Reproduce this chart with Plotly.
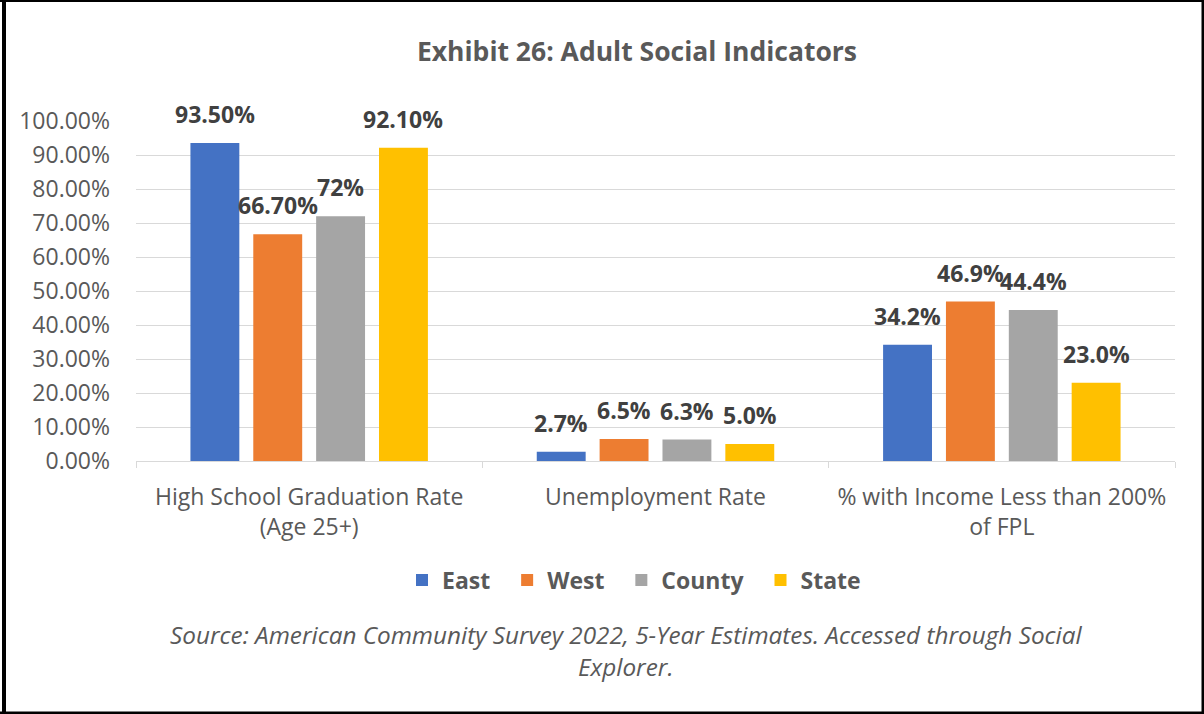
import plotly.graph_objects as go

# ---- data ----
categories = ["High School Graduation Rate<br>(Age 25+)", "Unemployment Rate",
              "% with Income Less than 200%<br>of FPL"]
series_names = ["East", "West", "County", "State"]
east = [93.5, 2.7, 34.2]
west = [66.7, 6.5, 46.9]
county = [72.0, 6.3, 44.4]
state = [92.1, 5.0, 23.0]
east_labels = ["93.50%", "2.7%", "34.2%"]
west_labels = ["66.70%", "6.5%", "46.9%"]
county_labels = ["72%", "6.3%", "44.4%"]
state_labels = ["92.10%", "5.0%", "23.0%"]
y_ticks = [0, 10, 20, 30, 40, 50, 60, 70, 80, 90, 100]
y_tick_labels = ["0.00%", "10.00%", "20.00%", "30.00%", "40.00%", "50.00%",
                 "60.00%", "70.00%", "80.00%", "90.00%", "100.00%"]

colors = ["#4472C4", "#ED7D31", "#A5A5A5", "#FFC000"]
values = [east, west, county, state]
labels = [east_labels, west_labels, county_labels, state_labels]

W, H = 1204, 714
ML, MR, MT, MB = 136, 29, 121, 253
PW = W - ML - MR
PH = H - MT - MB
BARGAP = 0.274
BARGROUPGAP = 0.222
FONT = "Open Sans"
PAD = "\u00a0\u00a0"  # extra spacing between legend entries


def px_x(x):
    return (x - ML) / PW


def px_y(y):
    return (H - MB - y) / PH


fig = go.Figure()
for name, vals, col in zip(series_names, values, colors):
    fig.add_trace(go.Bar(name=name + PAD, x=categories, y=vals,
                         marker=dict(color=col, line=dict(width=0))))

# data labels
slot = PW / len(categories) * (1 - BARGAP) / len(series_names)
annotations = []
for j, (vals, labs) in enumerate(zip(values, labels)):
    for cat, v, lab in zip(categories, vals, labs):
        annotations.append(dict(
            x=cat, y=v, xref="x", yref="y", text=lab, showarrow=False,
            xshift=(j - (len(series_names) - 1) / 2) * slot, yshift=11,
            yanchor="bottom", xanchor="center",
            font=dict(family=FONT, size=23, color="#404040", weight="bold")))

annotations.append(dict(
    x=px_x(626), y=px_y(650), xref="paper", yref="paper", showarrow=False,
    text="<i>Source: American Community Survey 2022, 5-Year Estimates. Accessed through Social<br>Explorer.</i>",
    xanchor="center", yanchor="middle", align="center",
    font=dict(family=FONT, size=24.3, color="#595959")))

shapes = [
    dict(type="line", xref="paper", yref="paper", x0=px_x(4), x1=px_x(4), y0=px_y(0), y1=px_y(H),
         line=dict(color="black", width=4)),
    dict(type="line", xref="paper", yref="paper", x0=px_x(0), x1=px_x(W), y0=px_y(1), y1=px_y(1),
         line=dict(color="black", width=2)),
    dict(type="line", xref="paper", yref="paper", x0=px_x(1203), x1=px_x(1203), y0=px_y(0), y1=px_y(H),
         line=dict(color="black", width=3)),
    dict(type="line", xref="paper", yref="paper", x0=px_x(0), x1=px_x(W), y0=px_y(713), y1=px_y(713),
         line=dict(color="black", width=3)),
]

fig.update_layout(
    width=W, height=H,
    margin=dict(l=ML, r=MR, t=MT, b=MB, pad=0),
    paper_bgcolor="white", plot_bgcolor="white",
    barmode="group", bargap=BARGAP, bargroupgap=BARGROUPGAP,
    font=dict(family=FONT, color="#595959"),
    title=dict(text="<b>Exhibit 26: Adult Social Indicators</b>", xref="container", yref="container",
               x=637 / W, y=1 - 52 / H, xanchor="center", yanchor="middle",
               font=dict(family=FONT, size=26.5, color="#595959")),
    xaxis=dict(showgrid=False, showline=True, linecolor="#d9d9d9", linewidth=1,
               ticks="outside", tickson="boundaries", ticklen=6, tickcolor="#d9d9d9",
               tickfont=dict(family=FONT, size=23, color="#595959"), ticklabelstandoff=15),
    yaxis=dict(range=[0, 100], tickmode="array", tickvals=y_ticks, ticktext=y_tick_labels,
               showgrid=True, gridcolor="#d9d9d9", gridwidth=1, zeroline=False, showline=False,
               tickfont=dict(family=FONT, size=23, color="#595959"), ticklabelstandoff=25),
    legend=dict(orientation="h", xref="container", yref="container", x=640 / W, y=1 - 580 / H,
                xanchor="center", yanchor="middle",
                font=dict(family=FONT, size=23, color="#595959", weight="bold")),
    annotations=annotations,
    shapes=shapes,
)

fig.write_html("out.html", config={"displayModeBar": False},
               post_script="document.body.style.margin='0';document.body.style.overflow='hidden';")
